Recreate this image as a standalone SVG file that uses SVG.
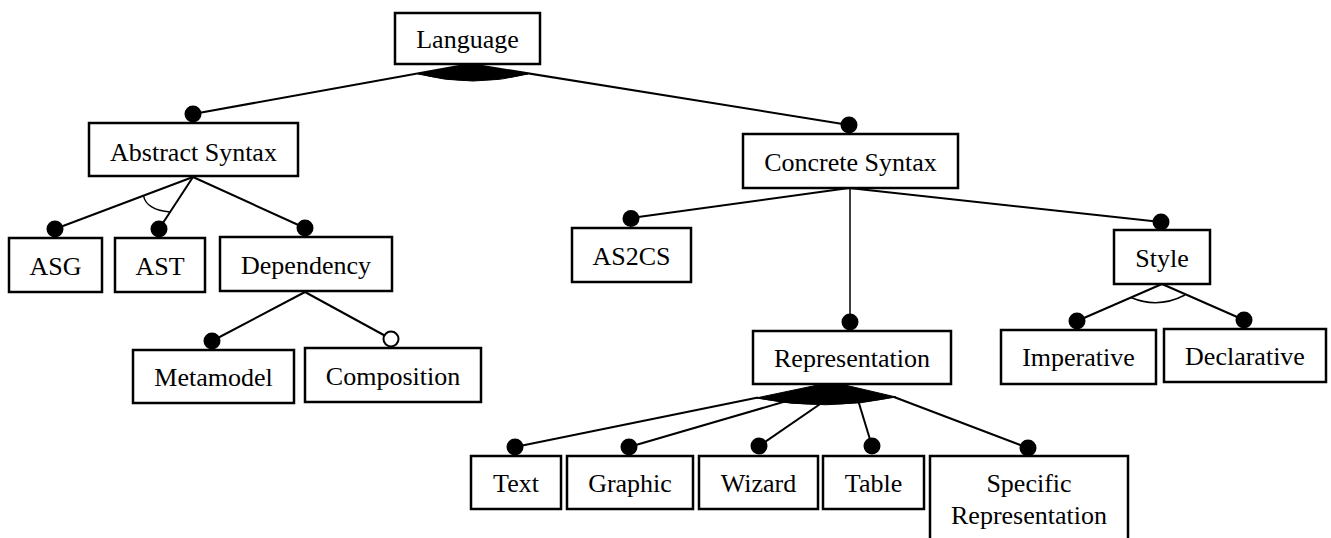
<svg xmlns="http://www.w3.org/2000/svg" width="1331" height="538" viewBox="0 0 1331 538">
<style>
.box{fill:#fff;stroke:#000;stroke-width:2.5}
.lbl{font-family:"Liberation Serif","Times New Roman",serif;font-size:26px;fill:#000;text-anchor:middle}
.ln{stroke:#000;stroke-width:2;fill:none}
.thin{stroke:#000;stroke-width:1.5;fill:none}
.dot{fill:#000}
.odot{fill:#fff;stroke:#000;stroke-width:2}
.grp{fill:#000;stroke:#000;stroke-width:1}
</style>
<rect width="1331" height="538" fill="#fff"/>
<g id="connectors">
<line class="ln" x1="470" y1="64" x2="193" y2="114"/>
<line class="ln" x1="470" y1="64" x2="849" y2="125"/>
<path class="grp" d="M418,74 L470,64 L528,74 Q473,88 418,74 Z"/>
<line class="ln" x1="193" y1="177" x2="55" y2="229"/>
<line class="ln" x1="193" y1="177" x2="159" y2="229"/>
<line class="ln" x1="193" y1="177" x2="305" y2="228"/>
<path class="thin" d="M143.5,195.5 C145,205 155,211 170,212"/>
<line class="ln" x1="305" y1="292" x2="212" y2="341"/>
<line class="ln" x1="305" y1="292" x2="391" y2="339"/>
<line class="ln" x1="849" y1="188" x2="631" y2="218"/>
<line class="thin" x1="850" y1="188" x2="850" y2="321"/>
<line class="ln" x1="849" y1="188" x2="1161" y2="222"/>
<line class="ln" x1="1162" y1="284" x2="1077" y2="321"/>
<line class="ln" x1="1162" y1="284" x2="1244" y2="320"/>
<path class="thin" d="M1131,297.5 Q1158,309 1185,295"/>
<line class="ln" x1="515" y1="447" x2="758" y2="397.5"/>
<line class="ln" x1="629" y1="447" x2="790" y2="400"/>
<line class="ln" x1="759" y1="446" x2="826" y2="400"/>
<line class="ln" x1="872" y1="446" x2="858" y2="400"/>
<line class="ln" x1="1028" y1="448" x2="894" y2="397"/>
<path class="grp" d="M756,398 L832,382 L896,397 Q826,412 756,398 Z"/>
<circle class="dot" cx="193" cy="114" r="8.5"/>
<circle class="dot" cx="849" cy="125" r="8.5"/>
<circle class="dot" cx="55" cy="229" r="8.5"/>
<circle class="dot" cx="159" cy="229" r="8.5"/>
<circle class="dot" cx="305" cy="228" r="8.5"/>
<circle class="dot" cx="212" cy="341" r="8.5"/>
<circle class="odot" cx="391" cy="339" r="7.5"/>
<circle class="dot" cx="631" cy="218.5" r="8.5"/>
<circle class="dot" cx="1161" cy="222" r="8.5"/>
<circle class="dot" cx="850" cy="322" r="8.5"/>
<circle class="dot" cx="1077" cy="321" r="8.5"/>
<circle class="dot" cx="1244" cy="320" r="8.5"/>
<circle class="dot" cx="515" cy="447" r="8.5"/>
<circle class="dot" cx="629" cy="447" r="8.5"/>
<circle class="dot" cx="759" cy="446" r="8.5"/>
<circle class="dot" cx="872" cy="446" r="8.5"/>
<circle class="dot" cx="1028" cy="448" r="8.5"/>
</g>
<g id="language"><rect class="box" x="395" y="13" width="145" height="51"/><text class="lbl" x="467.5" y="48">Language</text></g>
<g id="abstract-syntax"><rect class="box" x="89" y="123" width="209" height="53"/><text class="lbl" x="193.5" y="160.5">Abstract Syntax</text></g>
<g id="concrete-syntax"><rect class="box" x="743" y="134" width="215" height="54"/><text class="lbl" x="850.5" y="171">Concrete Syntax</text></g>
<g id="asg"><rect class="box" x="9" y="238" width="93" height="54"/><text class="lbl" x="55.5" y="275">ASG</text></g>
<g id="ast"><rect class="box" x="115" y="238" width="90" height="54"/><text class="lbl" x="160" y="275">AST</text></g>
<g id="dependency"><rect class="box" x="220" y="237" width="172" height="54"/><text class="lbl" x="306" y="274">Dependency</text></g>
<g id="as2cs"><rect class="box" x="572" y="228" width="119" height="54"/><text class="lbl" x="631.5" y="265">AS2CS</text></g>
<g id="style"><rect class="box" x="1114" y="230" width="96" height="54"/><text class="lbl" x="1162" y="267">Style</text></g>
<g id="metamodel"><rect class="box" x="133" y="350" width="161" height="53"/><text class="lbl" x="213.5" y="386">Metamodel</text></g>
<g id="composition"><rect class="box" x="305" y="348" width="176" height="54"/><text class="lbl" x="393" y="385">Composition</text></g>
<g id="representation"><rect class="box" x="753" y="331" width="198" height="53"/><text class="lbl" x="852" y="367">Representation</text></g>
<g id="imperative"><rect class="box" x="1001" y="330" width="155" height="54"/><text class="lbl" x="1078.5" y="366">Imperative</text></g>
<g id="declarative"><rect class="box" x="1164" y="329" width="162" height="53"/><text class="lbl" x="1245" y="365">Declarative</text></g>
<g id="text"><rect class="box" x="471" y="456" width="90" height="53"/><text class="lbl" x="516" y="492">Text</text></g>
<g id="graphic"><rect class="box" x="567" y="456" width="126" height="53"/><text class="lbl" x="630" y="492">Graphic</text></g>
<g id="wizard"><rect class="box" x="699" y="456" width="119" height="53"/><text class="lbl" x="758.5" y="492">Wizard</text></g>
<g id="table"><rect class="box" x="823" y="456" width="101" height="53"/><text class="lbl" x="873.5" y="492">Table</text></g>
<g id="specific-representation"><rect class="box" x="930" y="456" width="198" height="100"/><text class="lbl" x="1029" y="492">Specific</text><text class="lbl" x="1029" y="524">Representation</text></g>
</svg>
